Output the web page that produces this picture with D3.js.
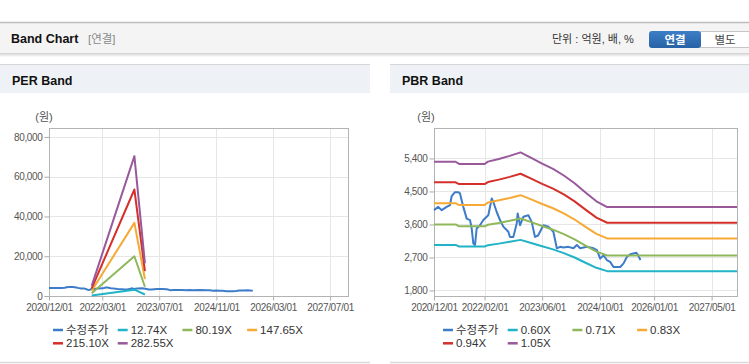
<!DOCTYPE html>
<html><head><meta charset="utf-8">
<script src="https://cdn.jsdelivr.net/npm/d3@7"></script>
<style>
body{margin:0;background:#fff;}
svg{display:block;font-family:"Liberation Sans",Arial,"Noto Sans CJK KR",sans-serif;}
</style>
</head><body>
<svg id="c" width="749" height="364"></svg>
<script>
// ---------------- DATA ----------------
const priceDates = ["2020-12-01","2021-01-06","2021-02-04","2021-03-18","2021-04-15","2021-04-29","2021-05-27","2021-06-24","2021-07-08","2021-07-22","2021-08-05","2021-09-03","2021-10-01","2021-10-15","2021-10-29","2021-11-12","2021-11-26","2021-12-24","2022-01-21","2022-03-04","2022-04-02","2022-04-15","2022-05-14","2022-06-11","2022-07-09","2022-08-20","2022-09-03","2022-10-01","2022-10-30","2022-11-07","2022-11-27","2022-12-25","2023-02-05","2023-03-05","2023-04-02","2023-04-28","2023-06-12","2023-07-24","2023-09-04","2023-10-03","2023-10-31","2023-11-28","2024-01-09","2024-02-20","2024-03-20","2024-04-17","2024-06-13","2024-08-08","2024-09-05","2024-10-03","2024-10-31","2024-11-28","2024-12-26","2025-01-23","2025-03-21","2025-04-18","2025-05-17","2025-06-14","2025-08-04","2025-08-15","2025-09-08"];
const priceValues = [3990,4080,3990,4080,4130,4370,4480,4480,4450,4260,4080,3760,3720,3490,3080,3040,3490,3580,3720,3850,4310,4220,3940,3720,3540,3400,3260,3260,3630,3900,3580,3810,3850,3670,3260,3300,3580,3540,3400,2950,2990,2970,2990,2950,3040,2950,2990,2950,2900,2670,2760,2630,2580,2440,2440,2540,2720,2790,2830,2780,2630];

const perBandDates = ["2021-12-01","2022-12-01","2023-03-01"];
const perBandLabels = ["12.74X","80.19X","147.65X","215.10X","282.55X"];
const per1274 = [230, 3170, 740];
const per8019 = [1440, 19970, 4650];
const per14765 = [2660, 36770, 8560];
const per21510 = [3870, 53560, 12480];
const per28255 = [5090, 70350, 16390];

const pbrBandDates = ["2020-12-01","2021-06-01","2021-07-01","2022-02-01","2022-03-01","2022-06-01","2022-09-01","2022-12-01","2023-03-01","2023-06-01","2023-09-01","2023-12-01","2024-03-01","2024-06-01","2024-09-01","2024-12-01","2027-12-01"];
const pbrBandLabels = ["0.60X","0.71X","0.83X","0.94X","1.05X"];
const pbr060 = [3042,3042,3000,3000,3036,3078,3126,3180,3096,3006,2922,2820,2700,2556,2418,2328,2328];
const pbr071 = [3600,3600,3550,3550,3593,3642,3699,3763,3664,3557,3458,3337,3195,3025,2861,2755,2755];
const pbr083 = [4180,4180,4130,4130,4200,4258,4324,4399,4283,4158,4042,3901,3735,3536,3345,3220,3220];
const pbr094 = [4750,4750,4700,4700,4756,4822,4897,4982,4850,4709,4578,4418,4230,4004,3788,3647,3647];
const pbr105 = [5310,5310,5250,5250,5313,5387,5471,5565,5418,5261,5114,4935,4725,4473,4232,4074,4074];

const priceLabel = "수정주가";
const perXTicks = ["2020-12-01","2022-03-01","2023-07-01","2024-11-01","2026-03-01","2027-07-01"];
const pbrXTicks = ["2020-12-01","2022-02-01","2023-06-01","2024-10-01","2026-01-01","2027-05-01"];
const perYTicks = [0,20000,40000,60000,80000];
const pbrYTicks = [1800,2700,3600,4500,5400];
const xDomain = ["2020-12-01","2027-12-01"];

const colors = ["#3d7cc9","#22b3c6","#8fb85b","#f6a935","#d42f2a","#98599b"];

// ---------------- DRAW ----------------
const svg = d3.select("#c");
const parse = d3.timeParse("%Y-%m-%d");
const fmtDate = d3.timeFormat("%Y/%m/%d");

const defs = svg.append("defs");
const sh = defs.append("linearGradient").attr("id","shadow").attr("x1",0).attr("x2",0).attr("y1",0).attr("y2",1);
sh.append("stop").attr("offset","0%").attr("stop-color","#cfcfcf");
sh.append("stop").attr("offset","100%").attr("stop-color","#ffffff");
const bg = defs.append("linearGradient").attr("id","btn").attr("x1",0).attr("x2",0).attr("y1",0).attr("y2",1);
bg.append("stop").attr("offset","0%").attr("stop-color","#3c7ec6");
bg.append("stop").attr("offset","100%").attr("stop-color","#2862a6");

// main header
svg.append("rect").attr("x",0).attr("y",22).attr("width",749).attr("height",31).attr("fill","#f4f4f4");
svg.append("line").attr("x1",0).attr("x2",749).attr("y1",22.5).attr("y2",22.5).attr("stroke","#bdbdbd").attr("stroke-width",1.5);
svg.append("rect").attr("x",0).attr("y",53).attr("width",749).attr("height",4).attr("fill","url(#shadow)");
svg.append("text").attr("x",11).attr("y",42.5).attr("font-size",12.5).attr("font-weight","bold").attr("fill","#111").text("Band Chart");
svg.append("text").attr("x",88).attr("y",42.5).attr("font-size",11.5).attr("fill","#8a8a8a").text("[연결]");
svg.append("text").attr("x",552).attr("y",43).attr("font-size",11).attr("fill","#333").text("단위 : 억원, 배, %");
svg.append("rect").attr("x",700.5).attr("y",31.5).attr("width",52).attr("height",16).attr("fill","#fff").attr("stroke","#c6c6c6");
svg.append("rect").attr("x",649).attr("y",31).attr("width",52).attr("height",17).attr("rx",3).attr("fill","url(#btn)");
svg.append("text").attr("x",675).attr("y",43.5).attr("text-anchor","middle").attr("font-size",11.5).attr("font-weight","bold").attr("fill","#fff").text("연결");
svg.append("text").attr("x",725).attr("y",43.5).attr("text-anchor","middle").attr("font-size",11.5).attr("fill","#444").text("별도");

function panel(x0, w, title) {
  svg.append("rect").attr("x",x0).attr("y",64).attr("width",w).attr("height",29).attr("fill","#eef1f6");
  svg.append("line").attr("x1",x0).attr("x2",x0+w).attr("y1",64.5).attr("y2",64.5).attr("stroke","#d6d6d6");
  svg.append("line").attr("x1",x0).attr("x2",x0+w).attr("y1",362.5).attr("y2",362.5).attr("stroke","#d9d9d9").attr("stroke-width",1.5);
  svg.append("text").attr("x",x0+12).attr("y",84.5).attr("font-size",12.5).attr("font-weight","bold").attr("fill","#111").text(title);
}
panel(0, 370, "PER Band");
panel(390, 359, "PBR Band");

function chart(cfg) {
  const g = svg.append("g");
  const x = d3.scaleTime().domain(xDomain.map(parse)).range([cfg.x0, cfg.x1]);
  const y = d3.scaleLinear().domain(cfg.yDomain).range([cfg.y1, cfg.y0]);
  g.append("g").selectAll("line").data(cfg.yTicks).join("line")
    .attr("x1",cfg.x0).attr("x2",cfg.x1).attr("y1",d=>Math.round(y(d))+0.5).attr("y2",d=>Math.round(y(d))+0.5)
    .attr("stroke","#e6e6e6");
  g.append("g").selectAll("line").data(cfg.xTicks.map(parse)).join("line")
    .attr("y1",cfg.y0).attr("y2",cfg.y1).attr("x1",d=>Math.round(x(d))+0.5).attr("x2",d=>Math.round(x(d))+0.5)
    .attr("stroke","#e6e6e6");
  const yAxis = d3.axisLeft(y).tickValues(cfg.yTicks).tickFormat(d3.format(",")).tickSize(5).tickPadding(2);
  const ya = g.append("g").attr("transform",`translate(${cfg.x0+0.5},0)`).call(yAxis);
  const xAxis = d3.axisBottom(x).tickValues(cfg.xTicks.map(parse)).tickFormat(fmtDate).tickSize(4).tickPadding(3);
  const xa = g.append("g").attr("transform",`translate(0,${cfg.y1+0.5})`).call(xAxis);
  [ya,xa].forEach(a=>{
    a.select(".domain").remove();
    a.selectAll(".tick line").attr("stroke","#aaa");
    a.selectAll(".tick text").attr("fill","#555").attr("font-size",10).attr("letter-spacing","-0.35px")
      .attr("font-family","\"Liberation Sans\",Arial,sans-serif");
  });
  g.append("rect").attr("x",cfg.x0+0.5).attr("y",cfg.y0+0.5).attr("width",cfg.x1-cfg.x0).attr("height",cfg.y1-cfg.y0)
    .attr("fill","none").attr("stroke","#b3b3b3");
  g.append("text").attr("x",cfg.x0+cfg.unitDx).attr("y",cfg.y0-7).attr("font-size",11).attr("fill","#555").attr("text-anchor","middle").text("(원)");
  const line = d3.line().x(d=>x(d[0])).y(d=>y(d[1]));
  const series = [{name:priceLabel, dates:priceDates, vals:priceValues}]
    .concat(cfg.bands.map((b,i)=>({name:cfg.bandLabels[i], dates:cfg.bandDates, vals:b})));
  series.forEach((s,i)=>{
    const pts = s.dates.map((d,j)=>[parse(d), s.vals[j]]);
    g.append("path").attr("d",line(pts)).attr("fill","none").attr("stroke",colors[i])
      .attr("stroke-width",2).attr("stroke-linejoin","round");
  });
  series.forEach((s,i)=>{
    const col = i % 4, row = Math.floor(i/4);
    const lx = cfg.legX + col*64.7, ly = 330 + row*13.3;
    g.append("line").attr("x1",lx).attr("x2",lx+10).attr("y1",ly).attr("y2",ly).attr("stroke",colors[i]).attr("stroke-width",2.5);
    g.append("text").attr("x",lx+13).attr("y",ly+4).attr("font-size",11.5).attr("fill","#333").text(s.name);
  });
}

chart({x0:49, x1:348, y0:128, y1:296, yDomain:[0,84500], yTicks:perYTicks, xTicks:perXTicks,
  bands:[per1274,per8019,per14765,per21510,per28255], bandLabels:perBandLabels, bandDates:perBandDates, legX:53, unitDx:-5});
chart({x0:434, x1:737, y0:128, y1:296, yDomain:[1650,6230], yTicks:pbrYTicks, xTicks:pbrXTicks,
  bands:[pbr060,pbr071,pbr083,pbr094,pbr105], bandLabels:pbrBandLabels, bandDates:pbrBandDates, legX:443, unitDx:-8});
</script>
</body></html>
